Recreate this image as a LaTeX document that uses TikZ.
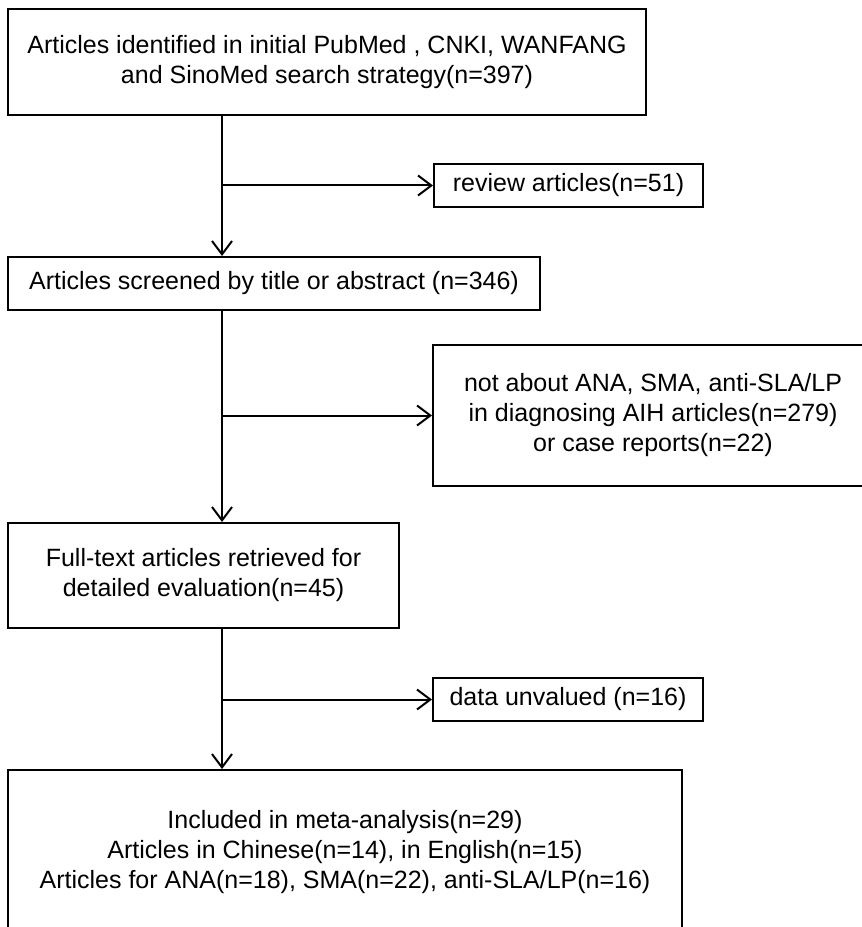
\documentclass[tikz,border=0pt]{standalone}
\usepackage{fontspec}
\setmainfont{Liberation Sans}
\usetikzlibrary{arrows.meta}
\begin{document}
\begin{tikzpicture}[x=0.75pt,y=-0.75pt,
  box/.style={draw, line width=1.5pt, inner sep=0pt, align=center,
    font=\fontsize{18.75pt}{22.5pt}\selectfont},
  arr/.style={line width=1.5pt, -{Straight Barb[length=10pt,width=15pt,line width=1.5pt]}},
  ln/.style={line width=1.5pt}]
\useasboundingbox (0,0) rectangle (862,927);
\clip (0,0) rectangle (862,927);
\node[box, minimum width=638*0.75pt, minimum height=106*0.75pt] (b1) at (327,62)
  {Articles identified in initial PubMed , CNKI, WANFANG\\and SinoMed search strategy(n=397)};
\node[box, minimum width=269*0.75pt, minimum height=43*0.75pt] (rev) at (568.5,185.5)
  {review articles(n=51)};
\node[box, minimum width=532*0.75pt, minimum height=53*0.75pt] (b2) at (274,283.5)
  {Articles screened by title or abstract (n=346)};
\node[box, minimum width=440*0.75pt, minimum height=141*0.75pt] (nab) at (653,415.5)
  {not about ANA, SMA, anti-SLA/LP\\in diagnosing AIH articles(n=279)\\or case reports(n=22)};
\node[box, minimum width=391*0.75pt, minimum height=105*0.75pt] (b3) at (203.5,575.5)
  {Full-text articles retrieved for\\detailed evaluation(n=45)};
\node[box, minimum width=270*0.75pt, minimum height=43*0.75pt] (dat) at (568,699.5)
  {data unvalued (n=16)};
\node[box, minimum width=674*0.75pt, minimum height=164*0.75pt] (b4) at (345,852)
  {Included in meta-analysis(n=29)\\Articles in Chinese(n=14), in English(n=15)\\Articles for ANA(n=18), SMA(n=22), anti-SLA/LP(n=16)};
\coordinate (spine) at (222,0);
\draw[arr] (spine |- b1.south) -- (spine |- b2.north);
\draw[arr] (spine |- rev.west) -- (rev.west);
\draw[arr] (spine |- b2.south) -- (spine |- b3.north);
\draw[arr] (spine |- nab.west) -- (nab.west);
\draw[arr] (spine |- b3.south) -- (spine |- b4.north);
\draw[arr] (spine |- dat.west) -- (dat.west);
\end{tikzpicture}
\end{document}
